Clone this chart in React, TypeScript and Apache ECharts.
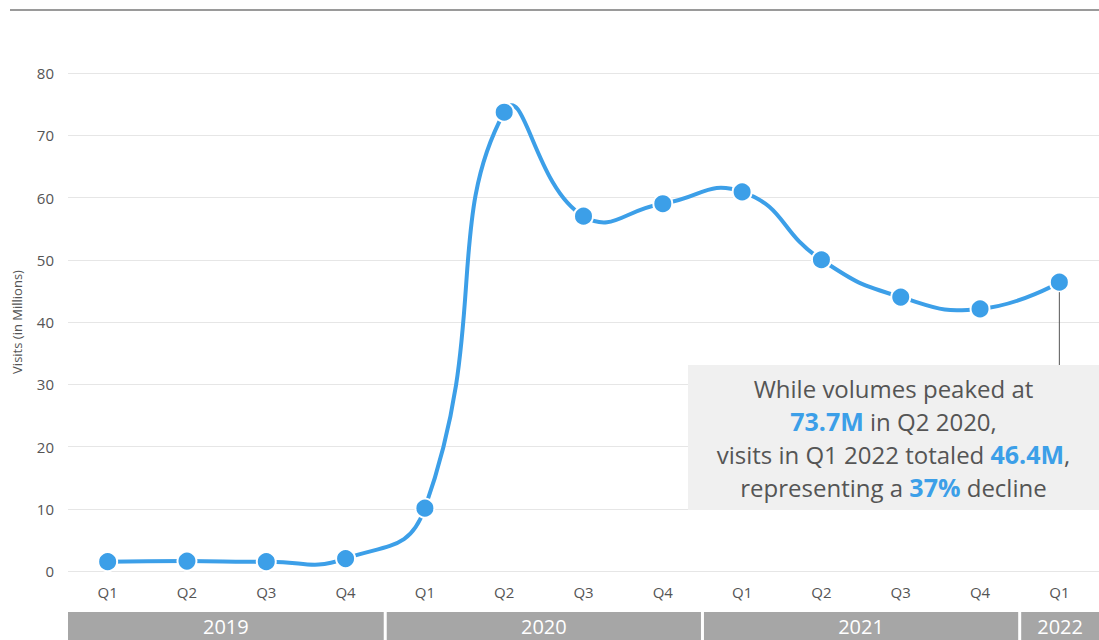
import React, { useEffect, useRef } from "react";
import * as echarts from "echarts";

// Quarterly visit volumes (millions), Q1 2019 – Q1 2022
const quarters = ["Q1", "Q2", "Q3", "Q4", "Q1", "Q2", "Q3", "Q4", "Q1", "Q2", "Q3", "Q4", "Q1"];
const visits = [1.5, 1.6, 1.5, 2.0, 10.1, 73.7, 57.0, 59.0, 60.9, 50.0, 44.0, 42.1, 46.4];

// Year bands: [first quarter index, last quarter index, label]
const years: [number, number, string][] = [
  [0, 3, "2019"],
  [4, 7, "2020"],
  [8, 11, "2021"],
  [12, 12, "2022"],
];

const yTicks = { min: 0, max: 80, interval: 10 };

const BLUE = "#3c9fe8";
const TEXT = "#555555";
const FONT = "'Open Sans', 'Noto Sans', sans-serif";

export default function App() {
  const ref = useRef<HTMLDivElement>(null);

  useEffect(() => {
    document.body.style.margin = "0";
    const chart = echarts.init(ref.current!, undefined, { renderer: "svg" });

    const option: any = {
      animation: false,
      textStyle: { fontFamily: FONT },
      grid: { left: 68, right: -2, top: 73, bottom: 69, containLabel: false },
      xAxis: {
        type: "category",
        data: quarters,
        boundaryGap: true,
        axisLine: { show: false },
        axisTick: { show: false },
        axisLabel: { color: TEXT, fontSize: 15, margin: 13, fontFamily: FONT },
      },
      yAxis: {
        type: "value",
        min: yTicks.min,
        max: yTicks.max,
        interval: yTicks.interval,
        name: "Visits (in Millions)",
        nameLocation: "middle",
        nameGap: 45,
        nameRotate: 90,
        nameTextStyle: { color: TEXT, fontSize: 13, fontFamily: FONT },
        axisLine: { show: false },
        axisTick: { show: false },
        axisLabel: { color: TEXT, fontSize: 15, margin: 14, fontFamily: FONT },
        splitLine: { lineStyle: { color: "#e6e6e6", width: 1 } },
      },
      series: [
        {
          // Smooth curve through every quarter (cardinal-style, allowed to overshoot)
          type: "custom",
          data: visits.map((v, i) => [i, v]),
          clip: false,
          silent: true,
          z: 2,
          renderItem: (params: any, api: any) => {
            if (params.dataIndex !== 0) return { type: "group", children: [] };
            const pts = visits.map((v, i) => api.coord([i, v]));
            return {
              type: "polyline",
              shape: { points: pts, smooth: 0.5 },
              style: { stroke: BLUE, lineWidth: 4, fill: "none" },
            };
          },
        },
        {
          type: "line",
          data: visits,
          symbol: "circle",
          symbolSize: 19,
          lineStyle: { width: 0, opacity: 0 },
          itemStyle: { color: BLUE, borderColor: "#ffffff", borderWidth: 2 },
          z: 3,
        },
        {
          type: "custom",
          data: years.map((y) => [y[0], y[1]]),
          clip: false,
          silent: true,
          renderItem: (params: any, api: any) => {
            const start = api.value(0);
            const end = api.value(1);
            const label = years[params.dataIndex][2];
            const band = api.size([1, 0])[0];
            const x0 = api.coord([start, 0])[0] - band / 2;
            const x1 = api.coord([end, 0])[0] + band / 2;
            const gap = 3;
            const left = params.dataIndex === 0 ? x0 : x0 + gap / 2;
            const right = params.dataIndex === years.length - 1 ? x1 : x1 - gap / 2;
            return {
              type: "group",
              children: [
                {
                  type: "rect",
                  shape: { x: left, y: 612, width: right - left, height: 30 },
                  style: { fill: "#a6a6a6" },
                },
                {
                  type: "text",
                  style: {
                    text: label,
                    x: (left + right) / 2,
                    y: 626,
                    align: "center",
                    verticalAlign: "middle",
                    fill: "#ffffff",
                    font: `20px ${FONT}`,
                  },
                },
              ],
            };
          },
        },
      ],
      graphic: [],
    };

    chart.setOption(option);

    // Annotation box tied to the last data point
    const lastIdx = visits.length - 1;
    const [px, py] = chart.convertToPixel({ seriesIndex: 1 }, [lastIdx, visits[lastIdx]]) as number[];
    const box = { x: 688, y: 365, w: 411, h: 145 };
    const cx = box.x + box.w / 2;

    chart.setOption({
      graphic: [
        {
          type: "line",
          shape: { x1: 10, y1: 10, x2: 1099, y2: 10 },
          style: { stroke: "#9a9a9a", lineWidth: 2 },
        },
        {
          type: "line",
          shape: { x1: px, y1: py + 10, x2: px, y2: box.y },
          style: { stroke: "#555555", lineWidth: 1 },
          z: 10,
        },
        {
          type: "rect",
          shape: { x: box.x, y: box.y, width: box.w, height: box.h },
          style: { fill: "#f0f0f0" },
          z: 10,
        },
        {
          type: "text",
          x: cx,
          y: box.y + box.h / 2,
          z: 11,
          style: {
            text:
              "While volumes peaked at\n" +
              "{b|73.7M} in Q2 2020,\n" +
              "visits in Q1 2022 totaled {b|46.4M},\n" +
              "representing a {b|37%} decline",
            align: "center",
            verticalAlign: "middle",
            fill: TEXT,
            font: `24px ${FONT}`,
            lineHeight: 33,
            rich: {
              b: {
                fill: BLUE,
                fontWeight: "bold",
                fontSize: 25,
                fontFamily: FONT,
                lineHeight: 33,
              },
            },
          },
        },
      ],
    });

    return () => chart.dispose();
  }, []);

  return <div ref={ref} style={{ width: 1099, height: 640 }} />;
}
